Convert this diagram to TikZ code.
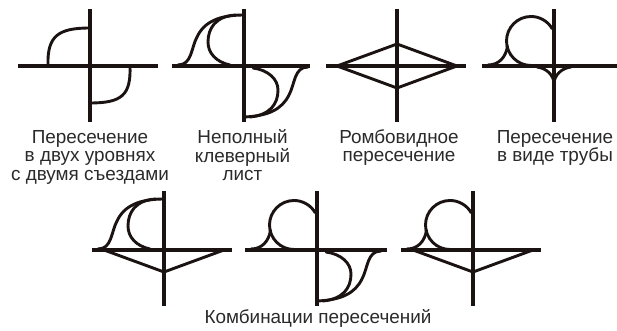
\documentclass[tikz,border=0pt]{standalone}
\usepackage{fontspec}
\setmainfont{Liberation Sans}
\definecolor{ink}{HTML}{1A1311}
\definecolor{txt}{HTML}{2A2A2A}
\newcommand\topst{\rule{0pt}{14pt}}
\newcommand\botst{\rule[-4pt]{0pt}{4pt}}
\tikzset{
  road/.style={draw=ink,line width=3.9pt},
  ramp/.style={draw=ink,line width=2.9pt,line cap=round},
  caption/.style={text=txt,align=center,inner sep=0pt,font=\fontsize{18.9}{18.8}\selectfont},
}
% local coordinates: origin at the crossing, x right, y up
\newcommand\roads[4]{\draw[road] (-#1,0) -- (#2,0); \draw[road] (0,#3) -- (0,-#4);}
\newcommand\cloverNW{%
  \draw[ramp] (-66,1) .. controls (-52,1) and (-53,18) .. (-47,29) .. controls (-40,44) and (-25,51) .. (0,51);
  \draw[ramp] (-14,1) .. controls (-28,4) and (-36,13) .. (-36,24) .. controls (-36,38) and (-28,50) .. (-8,51);}
\newcommand\cloverSE{%
  \draw[ramp] (64,-1) .. controls (50,-1) and (51,-18) .. (45,-29) .. controls (38,-43) and (25,-50) .. (0,-51);
  \draw[ramp] (9,-2) .. controls (24,-4) and (34,-13) .. (34,-24) .. controls (34,-38) and (26,-49) .. (6,-51);}
\newcommand\trumpetNW{%
  \draw[ramp] (-23,0.5) arc[start angle=-90,end angle=-330,radius=24.5];
  \draw[ramp] (-66,1) .. controls (-55,1) and (-48,9) .. (-46.5,20);}
\newcommand\diamondS{\draw[ramp] (-60,0) -- (0,-22) -- (60,0);}
\newcommand\diamondN{\draw[ramp] (-60,0) -- (0,22) -- (60,0);}
\begin{document}
\begin{tikzpicture}[x=1pt,y=1pt]
\useasboundingbox (0,0) rectangle (617,331);
% row 1
\begin{scope}[shift={(90,265)}]
  \roads{72}{68}{57}{56}
  \draw[ramp] (-42,0) .. controls (-43,30) and (-32,38) .. (0,38);
  \draw[ramp] (40,0) .. controls (41,-29) and (32,-37) .. (0,-37);
\end{scope}
\begin{scope}[shift={(244,265)}]
  \roads{72}{66}{57}{56}
  \cloverNW \cloverSE
\end{scope}
\begin{scope}[shift={(397,265)}]
  \roads{71}{69}{57}{56}
  \diamondN \diamondS
\end{scope}
\begin{scope}[shift={(554,265)}]
  \roads{72}{63}{57}{56}
  \trumpetNW
  \draw[ramp] (-17,-1) .. controls (-8,-2) and (0,-9) .. (0,-18) .. controls (0,-9) and (8,-2) .. (17,-1);
\end{scope}
% row 2
\begin{scope}[shift={(164,81)}]
  \roads{72}{68}{59}{56}
  \cloverNW \diamondS
\end{scope}
\begin{scope}[shift={(317,81)}]
  \roads{72}{70}{59}{56}
  \trumpetNW \cloverSE
\end{scope}
\begin{scope}[shift={(473,81)}]
  \roads{72}{68}{59}{56}
  \trumpetNW \diamondS
\end{scope}
% captions
\node[caption] (c1) at (90,174) {\topst Пересечение\\в двух уровнях\\с двумя съездами\botst};
\node[caption] (c2) at (242.5,174) {\topst Неполный\\клеверный\\лист\botst};
\node[caption] (c3) at (399,183.5) {\topst Ромбовидное\\пересечение\botst};
\node[caption] (c4) at (555,183.5) {\topst Пересечение\\в виде трубы\botst};
\node[caption,anchor=base] (c5) at (318,7) {Комбинации пересечений};
\end{tikzpicture}
\end{document}
